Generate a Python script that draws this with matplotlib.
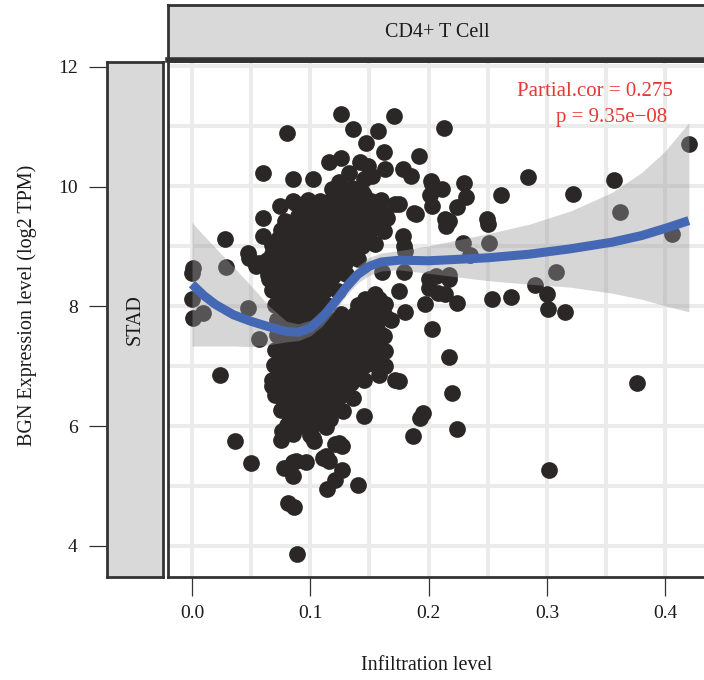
import numpy as np
import matplotlib.pyplot as plt

plt.rcParams['font.family'] = ['Liberation Serif', 'DejaVu Serif']

# ---- data ----
# scattered samples above the main cloud
upper_pts = [(0.126, 11.20), (0.171, 11.17), (0.080, 10.88), (0.136, 10.94), (0.157, 10.91),
             (0.147, 10.71), (0.162, 10.57), (0.192, 10.50), (0.116, 10.40), (0.126, 10.46),
             (0.142, 10.40), (0.060, 10.21), (0.085, 10.11), (0.102, 10.12), (0.133, 10.21),
             (0.149, 10.33), (0.163, 10.28), (0.178, 10.28), (0.185, 10.17), (0.203, 10.03),
             (0.124, 10.06), (0.145, 10.11), (0.152, 10.17), (0.126, 9.89), (0.145, 9.84),
             (0.074, 9.67), (0.085, 9.75), (0.060, 9.47), (0.079, 9.42), (0.099, 9.61),
             (0.149, 9.69), (0.175, 9.69), (0.189, 9.53), (0.163, 9.53), (0.060, 9.17),
             (0.028, 9.11), (0.178, 9.17), (0.179, 9.00), (0.047, 8.88), (0.029, 8.64),
             (0.054, 8.67), (0.074, 8.95), (0.201, 9.84), (0.203, 9.67), (0.202, 10.08),
             (0.048, 8.80), (0.057, 8.72), (0.065, 8.44), (0.074, 8.83), (0.087, 9.72),
             (0.144, 9.89), (0.147, 9.67), (0.172, 9.69), (0.188, 9.55), (0.214, 9.45),
             (0.163, 9.50), (0.116, 9.61), (0.113, 9.34), (0.088, 9.00)]

# samples near x = 0 (some sit under the band)
left_pts = [(0.000, 8.55), (0.001, 8.63), (0.000, 8.12), (0.001, 7.80), (0.009, 7.88),
            (0.047, 7.97), (0.057, 7.44), (0.024, 6.84), (0.076, 7.99)]

# the dense cloud, row by row
cloud_pts = [(0.118, 9.95), (0.135, 9.97),
             (0.098, 9.76), (0.108, 9.74), (0.118, 9.78), (0.129, 9.73), (0.139, 9.76), (0.151, 9.74), (0.160, 9.77),
             (0.090, 9.50), (0.100, 9.48), (0.111, 9.52), (0.122, 9.49), (0.133, 9.51), (0.144, 9.48), (0.155, 9.52), (0.165, 9.47),
             (0.075, 9.26), (0.086, 9.24), (0.096, 9.27), (0.107, 9.23), (0.118, 9.26), (0.129, 9.25), (0.140, 9.22), (0.151, 9.27), (0.162, 9.24),
             (0.068, 9.01), (0.078, 8.98), (0.089, 9.02), (0.100, 8.99), (0.111, 9.01), (0.122, 8.98), (0.133, 9.02), (0.144, 8.99), (0.155, 9.03),
             (0.063, 8.76), (0.074, 8.74), (0.085, 8.77), (0.096, 8.73), (0.107, 8.76), (0.118, 8.75), (0.129, 8.72), (0.140, 8.78),
             (0.064, 8.51), (0.075, 8.49), (0.086, 8.52), (0.097, 8.48), (0.108, 8.51), (0.119, 8.50), (0.130, 8.53),
             (0.068, 8.26), (0.079, 8.24), (0.090, 8.27), (0.101, 8.23), (0.112, 8.26), (0.123, 8.24),
             (0.070, 8.01), (0.081, 7.99), (0.092, 8.02), (0.103, 7.98), (0.114, 8.01), (0.140, 8.02), (0.152, 7.99), (0.163, 8.03),
             (0.072, 7.76), (0.083, 7.74), (0.094, 7.77), (0.105, 7.73), (0.120, 7.76), (0.132, 7.74), (0.144, 7.77), (0.156, 7.73), (0.168, 7.76),
             (0.072, 7.51), (0.083, 7.49), (0.095, 7.52), (0.106, 7.48), (0.117, 7.51), (0.128, 7.50), (0.139, 7.47), (0.150, 7.52), (0.162, 7.49),
             (0.070, 7.26), (0.081, 7.24), (0.092, 7.27), (0.103, 7.23), (0.114, 7.26), (0.125, 7.25), (0.136, 7.22), (0.147, 7.27), (0.158, 7.24),
             (0.069, 7.01), (0.080, 6.99), (0.091, 7.02), (0.102, 6.98), (0.113, 7.01), (0.124, 7.00), (0.135, 6.97), (0.146, 7.02), (0.156, 6.99),
             (0.068, 6.76), (0.079, 6.74), (0.090, 6.77), (0.101, 6.73), (0.112, 6.76), (0.123, 6.75), (0.134, 6.72), (0.145, 6.77),
             (0.070, 6.51), (0.081, 6.49), (0.092, 6.52), (0.103, 6.48), (0.114, 6.51), (0.125, 6.50), (0.136, 6.47),
             (0.075, 6.26), (0.086, 6.24), (0.097, 6.27), (0.108, 6.23), (0.119, 6.26), (0.128, 6.25),
             (0.080, 6.01), (0.091, 5.99), (0.102, 6.02), (0.113, 5.98),
             (0.085, 5.86), (0.100, 5.84)]

# more samples packed between the rows of the cloud
cloud_fill_pts = [(0.103, 9.62), (0.113, 9.63), (0.124, 9.61), (0.134, 9.64), (0.145, 9.62), (0.155, 9.61),
                  (0.081, 9.37), (0.091, 9.38), (0.102, 9.36), (0.112, 9.39), (0.123, 9.37), (0.134, 9.36), (0.145, 9.38), (0.156, 9.37),
                  (0.073, 9.12), (0.083, 9.13), (0.094, 9.11), (0.105, 9.13), (0.116, 9.12), (0.127, 9.11), (0.138, 9.13), (0.149, 9.12),
                  (0.068, 8.87), (0.079, 8.88), (0.090, 8.86), (0.101, 8.88), (0.112, 8.87), (0.123, 8.86), (0.134, 8.88),
                  (0.069, 8.62), (0.080, 8.63), (0.091, 8.61), (0.102, 8.63), (0.113, 8.62), (0.124, 8.61),
                  (0.073, 8.37), (0.084, 8.38), (0.095, 8.36), (0.106, 8.38), (0.117, 8.37),
                  (0.075, 8.12), (0.086, 8.13), (0.097, 8.11), (0.108, 8.13), (0.146, 8.12), (0.158, 8.11),
                  (0.076, 7.87), (0.087, 7.88), (0.098, 7.86), (0.110, 7.88), (0.126, 7.87), (0.138, 7.86), (0.150, 7.88), (0.162, 7.87),
                  (0.077, 7.62), (0.089, 7.63), (0.100, 7.61), (0.112, 7.63), (0.123, 7.62), (0.134, 7.61), (0.145, 7.63), (0.156, 7.62),
                  (0.076, 7.37), (0.087, 7.38), (0.098, 7.36), (0.109, 7.38), (0.120, 7.37), (0.131, 7.36), (0.142, 7.38), (0.153, 7.37),
                  (0.075, 7.12), (0.086, 7.13), (0.097, 7.11), (0.108, 7.13), (0.119, 7.12), (0.130, 7.11), (0.141, 7.13), (0.152, 7.12),
                  (0.074, 6.87), (0.085, 6.88), (0.096, 6.86), (0.107, 6.88), (0.118, 6.87), (0.129, 6.86), (0.140, 6.88),
                  (0.074, 6.62), (0.085, 6.63), (0.096, 6.61), (0.107, 6.63), (0.118, 6.62), (0.129, 6.61),
                  (0.078, 6.37), (0.089, 6.38), (0.100, 6.36), (0.111, 6.38), (0.122, 6.37),
                  (0.083, 6.12), (0.094, 6.13), (0.105, 6.11)]

# scattered samples below the cloud
lower_pts = [(0.036, 5.74), (0.050, 5.38), (0.076, 5.92), (0.078, 5.30), (0.088, 5.41),
             (0.096, 5.39), (0.085, 5.17), (0.111, 5.47), (0.116, 5.41), (0.121, 5.69),
             (0.127, 5.66), (0.103, 5.75), (0.075, 5.77), (0.127, 5.27), (0.121, 5.10),
             (0.114, 4.94), (0.140, 5.02), (0.081, 4.72), (0.086, 4.65), (0.089, 3.87),
             (0.117, 6.11), (0.145, 6.16), (0.175, 6.74), (0.195, 6.22), (0.193, 6.13),
             (0.187, 5.83), (0.163, 7.25), (0.172, 6.77), (0.113, 5.49), (0.085, 5.39),
             (0.102, 5.80), (0.124, 5.72), (0.068, 6.66), (0.163, 7.00), (0.158, 6.85)]

# samples to the right of the cloud
right_pts = [(0.213, 10.96), (0.284, 10.14), (0.357, 10.10), (0.420, 10.70), (0.322, 9.86),
             (0.261, 9.84), (0.230, 10.04), (0.211, 9.94), (0.232, 9.82), (0.224, 9.64),
             (0.217, 9.42), (0.249, 9.44), (0.362, 9.57), (0.406, 9.20), (0.229, 9.04),
             (0.251, 9.05), (0.235, 8.85), (0.308, 8.57), (0.290, 8.35), (0.206, 8.50),
             (0.217, 8.44), (0.254, 8.11), (0.270, 8.14), (0.300, 8.19), (0.301, 7.94),
             (0.315, 7.89), (0.224, 8.05), (0.203, 7.61), (0.217, 7.14), (0.220, 6.55),
             (0.224, 5.94), (0.302, 5.27), (0.376, 6.72), (0.208, 8.22), (0.215, 9.33),
             (0.250, 9.36), (0.180, 8.92), (0.161, 8.56), (0.179, 8.56), (0.200, 8.44),
             (0.217, 8.52), (0.175, 8.25), (0.200, 8.30), (0.214, 8.19), (0.197, 8.03),
             (0.155, 8.19), (0.180, 7.89), (0.155, 7.86), (0.144, 7.69), (0.161, 7.52)]

# loess fit and its confidence band
fit_x = [0.000, 0.010, 0.020, 0.035, 0.050, 0.065, 0.080, 0.090, 0.100, 0.110, 0.120, 0.130,
         0.140, 0.150, 0.160, 0.175, 0.200, 0.250, 0.285, 0.320, 0.355, 0.380, 0.400, 0.420]
fit_y = [8.36, 8.17, 8.02, 7.85, 7.74, 7.65, 7.57, 7.56, 7.63, 7.80, 8.04, 8.30,
         8.52, 8.66, 8.73, 8.76, 8.75, 8.80, 8.86, 8.95, 9.06, 9.17, 9.29, 9.42]
band_hi = [9.39, 9.17, 8.96, 8.65, 8.33, 8.00, 7.74, 7.70, 7.76, 7.94, 8.18, 8.44,
           8.66, 8.81, 8.88, 8.92, 9.00, 9.20, 9.36, 9.58, 9.89, 10.22, 10.58, 11.05]
band_lo = [7.33, 7.33, 7.33, 7.33, 7.32, 7.35, 7.40, 7.42, 7.50, 7.66, 7.90, 8.16,
           8.38, 8.51, 8.58, 8.60, 8.54, 8.42, 8.36, 8.31, 8.21, 8.11, 8.00, 7.90]

x_ticks = [0.0, 0.1, 0.2, 0.3, 0.4]
x_labels = ['0.0', '0.1', '0.2', '0.3', '0.4']
y_ticks = [4, 6, 8, 10, 12]
y_labels = ['4', '6', '8', '10', '12']

cor_text = 'Partial.cor = 0.275'
p_text = 'p = 9.35e\u221208'

# ---- layout in pixels ----
W, H = 704.0, 680.0
def box(l, t, r, b):
    return [l / W, 1 - b / H, (r - l) / W, (b - t) / H]

border = '#333333'
strip_fill = '#d9d9d9'

fig = plt.figure(figsize=(7.04, 6.8), dpi=100)

ax = fig.add_axes(box(168, 61, 706, 577))
top = fig.add_axes(box(168, 5, 706, 60))
side = fig.add_axes(box(107, 62, 163, 577))

xmin, xmax = -0.0203, 0.4345
ymin, ymax = 3.48, 12.08

# main panel
pts = np.array(upper_pts + left_pts + cloud_pts + cloud_fill_pts + lower_pts + right_pts)
ax.scatter(pts[:, 0], pts[:, 1], s=145, c='#2b2727', linewidths=0, zorder=3)
ax.fill_between(fit_x, band_lo, band_hi, color='#999999', alpha=0.4, lw=0, zorder=4)
ax.plot(fit_x, fit_y, color='#4568b5', lw=6.5, solid_capstyle='butt', zorder=5)

ax.set_xlim(xmin, xmax)
ax.set_ylim(ymin, ymax)
ax.set_xticks(x_ticks)
ax.set_xticklabels(x_labels)
ax.set_xticks([0.05, 0.15, 0.25, 0.35], minor=True)
ax.set_yticks(y_ticks)
ax.set_yticks([5, 7, 9, 11], minor=True)
ax.grid(which='both', color='#ebebeb', lw=2.9, zorder=0)
ax.set_axisbelow(True)
ax.tick_params(axis='y', which='both', length=0, labelleft=False)
ax.tick_params(axis='x', which='minor', length=0)
ax.tick_params(axis='x', which='major', direction='out', length=14, width=0.9,
               color=border, pad=6.5, labelsize=14, labelcolor='#1a1a1a')
for s in ax.spines.values():
    s.set_color(border)
    s.set_linewidth(2)

ax.text(0.4063, 11.57, cor_text, ha='right', va='center', color='#e53a33', fontsize=15, zorder=6)
ax.text(0.4013, 11.13, p_text, ha='right', va='center', color='#e53a33', fontsize=15, zorder=6)

# top strip
top.set_facecolor(strip_fill)
top.set_xticks([])
top.set_yticks([])
for s in top.spines.values():
    s.set_color(border)
    s.set_linewidth(2)
top.spines['bottom'].set_linewidth(4)
top.text(0.5, 0.5, 'CD4+ T Cell', ha='center', va='center', fontsize=14.5,
         color='#1a1a1a', transform=top.transAxes)

# side strip carries the y axis
side.set_facecolor(strip_fill)
side.set_ylim(ymin, ymax)
side.set_xticks([])
side.set_yticks(y_ticks)
side.set_yticklabels(y_labels)
side.tick_params(axis='y', direction='out', length=13, width=0.9, color=border,
                 pad=8, labelsize=14, labelcolor='#1a1a1a')
for s in side.spines.values():
    s.set_color(border)
    s.set_linewidth(2)
side.text(0.5, 0.5, 'STAD', ha='center', va='center', rotation=90, fontsize=14.5,
          color='#1a1a1a', transform=side.transAxes)

fig.text(27 / W, 1 - 305 / H, 'BGN Expression level (log2 TPM)', rotation=90,
         ha='center', va='center', fontsize=14.5, color='#1a1a1a')
fig.text(427 / W, 1 - 665 / H, 'Infiltration level', ha='center', va='center',
         fontsize=14.5, color='#1a1a1a')

fig.savefig('out.png', dpi=100)
